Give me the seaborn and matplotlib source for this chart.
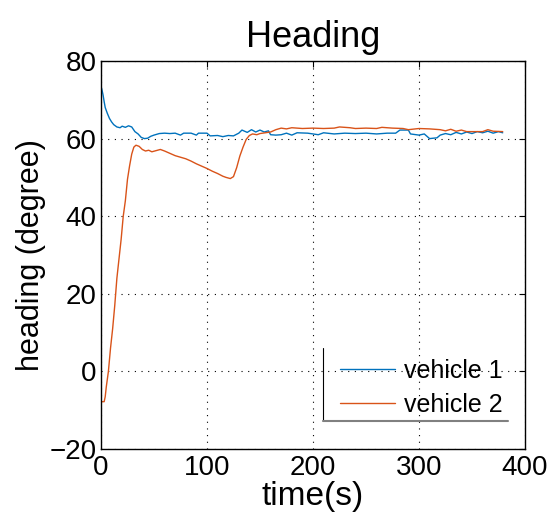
import matplotlib
matplotlib.use('Agg')
import matplotlib.pyplot as plt
import seaborn as sns

# vehicle 1 heading (deg) vs time (s)
V1_T = [0, 1, 2, 3, 4, 6, 8, 10, 12, 15, 18, 20, 23, 26, 29, 32, 35, 38, 41, 44,
        47, 50, 55, 60, 65, 70, 75, 78, 85, 90, 92, 100, 103, 110, 115, 120, 125,
        130, 133, 138, 142, 146, 150, 154, 158, 160, 165, 170, 175, 180, 185, 195,
        205, 210, 220, 230, 240, 250, 260, 270, 278, 282, 290, 292, 300, 305, 310,
        317, 320, 325, 330, 335, 340, 345, 350, 355, 360, 365, 370, 375, 379]
V1_H = [73.5, 72.5, 71.2, 69.5, 68.0, 66.5, 65.2, 64.3, 63.6, 63.0, 62.8, 63.2,
        62.9, 63.3, 63.0, 61.8, 61.2, 60.3, 60.0, 60.1, 60.6, 60.9, 61.3, 61.4,
        61.3, 61.4, 60.9, 61.4, 61.4, 60.9, 61.4, 61.4, 60.7, 60.8, 60.5, 60.8,
        60.7, 61.4, 62.2, 61.6, 62.3, 61.7, 62.2, 61.7, 62.0, 61.0, 60.9, 61.0,
        61.4, 60.9, 61.5, 61.4, 61.0, 61.5, 61.2, 61.4, 61.3, 61.4, 61.2, 61.4,
        61.4, 62.2, 62.2, 61.2, 60.9, 61.2, 60.0, 60.2, 60.9, 61.3, 61.0, 61.6,
        61.2, 61.7, 61.3, 61.8, 61.5, 61.9, 61.4, 61.8, 61.5]

# vehicle 2 heading (deg) vs time (s)
V2_T = [0, 3, 4, 5, 7, 9, 11, 13, 15, 17, 19, 21, 23, 25, 27, 29, 31, 33, 36, 39,
        42, 45, 48, 52, 56, 60, 65, 70, 75, 80, 85, 90, 95, 100, 105, 110, 115,
        118, 122, 125, 128, 131, 134, 137, 140, 143, 147, 150, 155, 160, 165, 170,
        175, 180, 190, 200, 210, 220, 225, 235, 240, 250, 260, 265, 275, 285, 290,
        300, 310, 320, 325, 330, 335, 340, 345, 350, 360, 365, 370, 379]
V2_H = [-7.8, -7.8, -6.5, -4.0, 0.0, 6.0, 11.0, 17.0, 24.0, 29.0, 34.0, 40.0,
        44.0, 49.5, 53.0, 56.0, 57.8, 58.3, 58.0, 57.2, 56.8, 57.0, 56.6, 56.9,
        57.2, 56.8, 56.2, 55.6, 55.2, 54.8, 54.2, 53.5, 52.9, 52.3, 51.6, 51.0,
        50.3, 50.0, 49.7, 50.2, 52.5, 55.5, 57.8, 59.8, 60.8, 61.2, 61.0, 61.3,
        61.5, 61.7, 62.3, 62.7, 62.5, 62.8, 62.6, 62.7, 62.6, 62.7, 63.0, 62.8,
        62.6, 62.7, 62.6, 62.9, 62.7, 62.6, 62.3, 62.6, 62.5, 62.3, 62.0, 62.4,
        61.9, 62.2, 61.8, 61.8, 61.8, 62.3, 61.9, 61.8]

X_TICKS = [0, 100, 200, 300, 400]
Y_TICKS = [-20, 0, 20, 40, 60, 80]

sns.set_style("white")
plt.rcParams['font.family'] = ['Liberation Sans', 'DejaVu Sans']
plt.rcParams['text.color'] = 'black'
plt.rcParams['axes.labelcolor'] = 'black'

fig = plt.figure(figsize=(5.5, 5.29), dpi=100)
ax = fig.add_axes([0.1836, 0.1512, 0.7709, 0.7335])

sns.lineplot(x=V1_T, y=V1_H, ax=ax, color="#0072BD", linewidth=1.0,
             label="vehicle 1")
sns.lineplot(x=V2_T, y=V2_H, ax=ax, color="#D95319", linewidth=1.0,
             label="vehicle 2")

ax.set_xlim(0, 400)
ax.set_ylim(-20, 80)
ax.set_xticks(X_TICKS)
ax.set_yticks(Y_TICKS)
ax.set_yticklabels(["\u221220", "0", "20", "40", "60", "80"])
ax.grid(True, color="black", linestyle=(0, (1, 5)), linewidth=0.8)
ax.tick_params(direction="in", length=4, labelsize=20, top=True, right=True,
               colors="black")
ax.tick_params(axis="x", pad=4)
ax.tick_params(axis="y", pad=3)
for s in ax.spines.values():
    s.set_color("black")
    s.set_linewidth(1.0)

ax.set_title("Heading", fontsize=26, pad=10, color="black")
ax.set_xlabel("time(s)", fontsize=24, labelpad=0)
ax.set_ylabel("heading (degree)", fontsize=22, labelpad=3)

leg = ax.legend(loc="lower left", bbox_to_anchor=(0.54, 0.058), fontsize=18,
                frameon=False, handlelength=2.2, handletextpad=0.35,
                labelspacing=0.4, borderaxespad=0)
# legend box edges as drawn in the original (left and bottom only)
ax.plot([0.524, 0.524], [0.072, 0.26], transform=ax.transAxes, color="black", lw=0.8)
ax.plot([0.524, 0.96], [0.072, 0.072], transform=ax.transAxes, color="gray", lw=1.5)

fig.savefig("out.png", dpi=100)
